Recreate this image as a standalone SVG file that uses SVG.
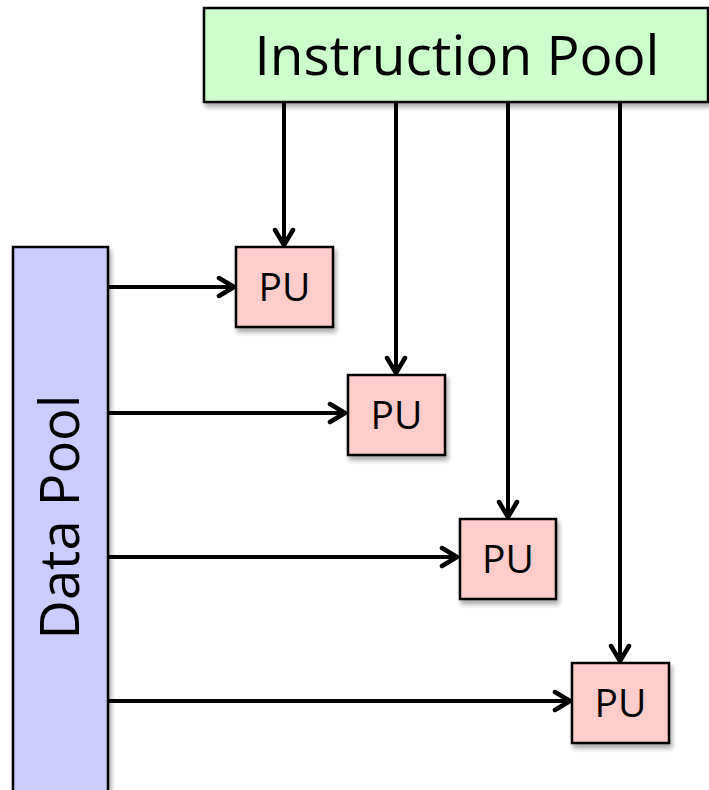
<svg xmlns="http://www.w3.org/2000/svg" width="709" height="790" viewBox="0 0 709 790">
<defs>
<filter id="sh" x="-10%" y="-10%" width="130%" height="130%">
<feGaussianBlur in="SourceAlpha" stdDeviation="2.5"/>
<feOffset dx="2" dy="4" result="b"/>
<feComponentTransfer><feFuncA type="linear" slope="0.35"/></feComponentTransfer>
<feMerge><feMergeNode/><feMergeNode in="SourceGraphic"/></feMerge>
</filter>
<marker id="ah" markerUnits="userSpaceOnUse" viewBox="0 0 24 24" refX="20" refY="12" markerWidth="24" markerHeight="24" orient="auto">
<path d="M5,3 L20,12 L5,21" fill="none" stroke="#000" stroke-width="4.5" stroke-linecap="round" stroke-linejoin="round"/>
</marker>
</defs>
<style>
.box{stroke:#000;stroke-width:2.5;filter:url(#sh)}
.pu{fill:#ffcccc}
.lbl{font-family:"Open Sans","Liberation Sans",sans-serif;fill:#000}
.big{font-size:55px}
.small{font-size:39px}
.c{fill:none;stroke:#000;stroke-width:4;marker-end:url(#ah)}
</style>
<g id="connectors">
<line class="c" x1="284" y1="102" x2="284" y2="245"/>
<line class="c" x1="396" y1="102" x2="396" y2="373"/>
<line class="c" x1="508" y1="102" x2="508" y2="517"/>
<line class="c" x1="620" y1="102" x2="620" y2="661"/>
<line class="c" x1="108" y1="287" x2="234" y2="287"/>
<line class="c" x1="108" y1="413" x2="345" y2="413"/>
<line class="c" x1="108" y1="557" x2="457" y2="557"/>
<line class="c" x1="108" y1="701" x2="570" y2="701"/>
</g>
<g id="instruction-pool">
<rect class="box" x="204" y="8" width="504" height="94" fill="#ccffcc"/>
<text class="lbl big" x="457" y="75" text-anchor="middle" textLength="405" lengthAdjust="spacingAndGlyphs">Instruction Pool</text>
</g>
<g id="data-pool">
<rect class="box" x="13" y="247" width="95" height="560" fill="#ccccff"/>
<text class="lbl big" transform="translate(79,517) rotate(-90)" text-anchor="middle" textLength="245" lengthAdjust="spacingAndGlyphs">Data Pool</text>
</g>
<g id="pu1">
<rect class="box pu" x="236" y="247" width="97" height="80"/>
<text class="lbl small" x="284.5" y="301" text-anchor="middle">PU</text>
</g>
<g id="pu2">
<rect class="box pu" x="348" y="375" width="97" height="80"/>
<text class="lbl small" x="396.5" y="429" text-anchor="middle">PU</text>
</g>
<g id="pu3">
<rect class="box pu" x="460" y="519" width="96" height="80"/>
<text class="lbl small" x="508" y="573" text-anchor="middle">PU</text>
</g>
<g id="pu4">
<rect class="box pu" x="572" y="663" width="97" height="80"/>
<text class="lbl small" x="620.5" y="717" text-anchor="middle">PU</text>
</g>
</svg>
